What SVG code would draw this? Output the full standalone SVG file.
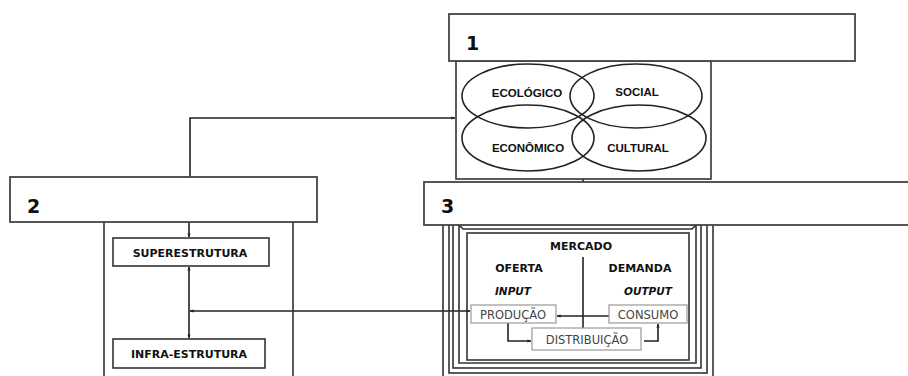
<svg xmlns="http://www.w3.org/2000/svg" width="908" height="376" viewBox="0 0 908 376">
<defs>
<marker id="ah" viewBox="0 0 10 10" refX="9" refY="5" markerWidth="4" markerHeight="4" orient="auto-start-reverse" markerUnits="userSpaceOnUse">
<path d="M0,1 L10,5 L0,9 z" fill="#222"/>
</marker>
<style>
.frame{fill:none;stroke:#333;stroke-width:1.6}
.hdr{fill:#fff;stroke:#444;stroke-width:1.8}
.num{font-family:"DejaVu Sans","Liberation Sans",sans-serif;font-weight:bold;font-size:19px;fill:#111}
.lbl{font-family:"DejaVu Sans","Liberation Sans",sans-serif;font-weight:bold;font-size:11px;fill:#111;text-anchor:middle}
.ell-t{font-family:"Liberation Sans",Arial,sans-serif;font-weight:bold;font-size:11.5px;fill:#111;text-anchor:middle}
.ital{font-family:"DejaVu Sans","Liberation Sans",sans-serif;font-weight:bold;font-style:italic;font-size:10.5px;fill:#111;text-anchor:middle}
.sub{fill:#fff;stroke:#999;stroke-width:1.2}
.subt{font-family:"DejaVu Sans","Liberation Sans",sans-serif;font-size:11.5px;fill:#444;text-anchor:middle}
.ell{fill:none;stroke:#222;stroke-width:1.6}
.con{fill:none;stroke:#222;stroke-width:1.6}
.box{fill:#fff;stroke:#333;stroke-width:1.6}
</style>
</defs>

<g id="connectors">
<polyline class="con" points="190,177 190,118 455,118" marker-end="url(#ah)"/>
<line class="con" x1="189" y1="222" x2="189" y2="237" marker-end="url(#ah)"/>
<line class="con" x1="189" y1="267" x2="189" y2="338" marker-start="url(#ah)" marker-end="url(#ah)"/>
<line class="con" x1="190" y1="311" x2="470" y2="311" marker-start="url(#ah)" marker-end="url(#ah)"/>
<line class="con" x1="583" y1="179" x2="583" y2="182"/>
</g>

<g id="node1">
<rect class="box" x="456" y="61" width="255" height="118"/>
<rect class="hdr" x="449" y="14" width="406" height="47"/>
<text class="num" x="466" y="50">1</text>
<ellipse class="ell" cx="528" cy="96" rx="66" ry="32"/>
<ellipse class="ell" cx="636" cy="96" rx="66" ry="32"/>
<ellipse class="ell" cx="528" cy="138" rx="66" ry="33"/>
<ellipse class="ell" cx="639" cy="138" rx="67" ry="33"/>
<text class="ell-t" x="527" y="97">ECOLÓGICO</text>
<text class="ell-t" x="637" y="96">SOCIAL</text>
<text class="ell-t" x="528" y="152">ECONÔMICO</text>
<text class="ell-t" x="638" y="152">CULTURAL</text>
</g>

<g id="node2">
<line class="frame" x1="104" y1="222" x2="104" y2="376"/>
<line class="frame" x1="293" y1="222" x2="293" y2="376"/>
<rect class="hdr" x="10" y="177" width="307" height="45"/>
<text class="num" x="27" y="213">2</text>
<g id="superestrutura">
<rect class="box" x="113" y="238" width="156" height="28"/>
<text class="lbl" x="190" y="257" font-size="11">SUPERESTRUTURA</text>
</g>
<g id="infraestrutura">
<rect class="box" x="113" y="339" width="152" height="29"/>
<text class="lbl" x="189" y="358" font-size="11">INFRA-ESTRUTURA</text>
</g>
</g>

<g id="node3">
<polyline class="frame" points="443,376 443,225"/>
<polyline class="frame" points="713,376 713,225"/>
<rect class="frame" x="449" y="222" width="258" height="151"/>
<rect class="frame" x="453" y="222" width="248" height="146"/>
<path class="frame" d="M459,363 V225 L463,229 H692 L696,225 V363 Z"/>
<rect class="frame" x="467" y="233" width="222" height="127"/>
<rect class="hdr" x="424" y="182" width="490" height="43"/>
<text class="num" x="441" y="213">3</text>
<text class="lbl" x="581" y="250">MERCADO</text>
<text class="lbl" x="519" y="272">OFERTA</text>
<text class="lbl" x="640" y="272">DEMANDA</text>
<text class="ital" x="513" y="295">INPUT</text>
<text class="ital" x="648" y="295">OUTPUT</text>
<line class="con" x1="583" y1="257" x2="583" y2="328"/>
<line class="con" x1="609" y1="316" x2="557" y2="316" marker-end="url(#ah)"/>
<polyline class="con" points="508,323 508,341 531,341" marker-end="url(#ah)"/>
<polyline class="con" points="644,341 658,341 658,324" marker-end="url(#ah)"/>
<g id="producao">
<rect class="sub" x="471" y="305" width="85" height="18"/>
<text class="subt" x="513" y="319">PRODUÇÃO</text>
</g>
<g id="consumo">
<rect class="sub" x="609" y="305" width="78" height="18"/>
<text class="subt" x="648" y="319">CONSUMO</text>
</g>
<g id="distribuicao">
<rect class="sub" x="532" y="328" width="109" height="22"/>
<text class="subt" x="587" y="344">DISTRIBUIÇÃO</text>
</g>
</g>
</svg>
